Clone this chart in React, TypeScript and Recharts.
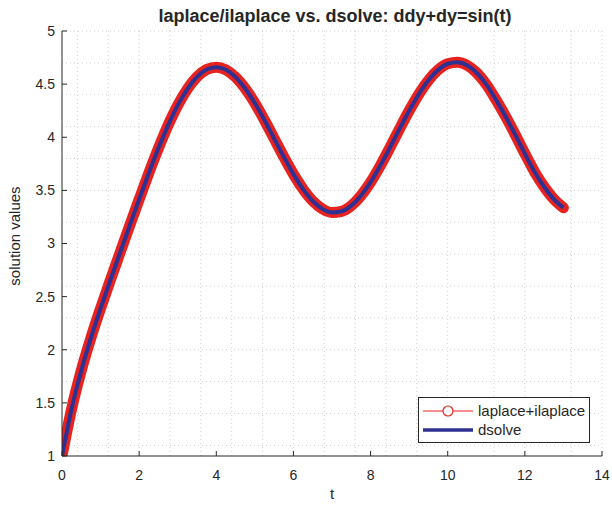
import { CartesianGrid, Legend, Line, LineChart, XAxis, YAxis } from 'recharts';

// t samples and the two solutions
const tValues = [
  0, 0.25, 0.5, 0.75, 1, 1.25, 1.5, 1.75, 2, 2.25, 2.5, 2.75, 3, 3.25, 3.5, 3.75,
  4, 4.25, 4.5, 4.75, 5, 5.25, 5.5, 5.75, 6, 6.25, 6.5, 6.75, 7, 7.25, 7.5, 7.75,
  8, 8.25, 8.5, 8.75, 9, 9.25, 9.5, 9.75, 10, 10.25, 10.5, 10.75, 11, 11.25, 11.5, 11.75,
  12, 12.25, 12.5, 12.75, 13,
];
const laplaceValues = [
  1.0, 1.445, 1.805, 2.112, 2.389, 2.652, 2.908, 3.163, 3.415, 3.662, 3.896, 4.112, 4.3, 4.454, 4.568, 4.637,
  4.659, 4.635, 4.566, 4.459, 4.321, 4.16, 3.988, 3.816, 3.653, 3.512, 3.4, 3.326, 3.292, 3.303, 3.356, 3.45,
  3.577, 3.731, 3.901, 4.078, 4.249, 4.405, 4.536, 4.634, 4.692, 4.706, 4.678, 4.607, 4.498, 4.354, 4.196, 4.025,
  3.846, 3.676, 3.534, 3.418, 3.336,
];
const dsolveValues = laplaceValues; // the two curves sit on top of each other

const xTicks = [0, 2, 4, 6, 8, 10, 12, 14];
const yTicks = [1, 1.5, 2, 2.5, 3, 3.5, 4, 4.5, 5];
const xGrid = Array.from({ length: 36 }, (_, i) => +(i * 0.4).toFixed(1));
const yGrid = Array.from({ length: 41 }, (_, i) => +(1 + i * 0.1).toFixed(1));
const legendOrder = ['laplace', 'dsolve'];

const data = tValues.map((t, i) => ({ t, laplace: laplaceValues[i], dsolve: dsolveValues[i] }));

const FONT = '"Liberation Sans", Arial, Helvetica, sans-serif';
const AXIS = '#262626';
const RED = '#e8231f';
const BLUE = '#2e3192';

const BottomTick = (props: any) => {
  const { x, y, payload } = props;
  return (
    <g>
      <line x1={x} y1={y} x2={x} y2={y - 5} stroke={AXIS} />
      <text x={x} y={y + 24} textAnchor="middle" fontSize={14} fill={AXIS} fontFamily={FONT}>
        {payload.value}
      </text>
    </g>
  );
};
const LeftTick = (props: any) => {
  const { x, y, payload } = props;
  return (
    <g>
      <line x1={x} y1={y} x2={x + 5} y2={y} stroke={AXIS} />
      <text x={x - 7} y={y} dy="0.35em" textAnchor="end" fontSize={14} fill={AXIS} fontFamily={FONT}>
        {payload.value}
      </text>
    </g>
  );
};
const TopTick = (props: any) => (
  <line x1={props.x} y1={props.y} x2={props.x} y2={props.y + 5} stroke={AXIS} />
);
const RightTick = (props: any) => (
  <line x1={props.x} y1={props.y} x2={props.x - 5} y2={props.y} stroke={AXIS} />
);

const renderLegend = (props: any) => {
  const entries = [...(props.payload ?? [])].sort(
    (a: any, b: any) => legendOrder.indexOf(a.dataKey) - legendOrder.indexOf(b.dataKey),
  );
  return (
    <div
      style={{
        width: 172,
        height: 46,
        border: `1px solid ${AXIS}`,
        background: '#fff',
        fontFamily: FONT,
        fontSize: 15,
        color: AXIS,
        boxSizing: 'border-box',
        paddingTop: 3,
      }}
    >
      {entries.map((entry: any) => (
        <div key={entry.value} style={{ display: 'flex', alignItems: 'center', height: 19 }}>
          <svg width={59} height={14} style={{ flex: 'none' }}>
            {entry.dataKey === 'laplace' ? (
              <g>
                <line x1={4} y1={7} x2={54} y2={7} stroke={RED} strokeWidth={1.2} />
                <circle cx={29} cy={7} r={5} fill="#fff" stroke={RED} strokeWidth={1.2} />
              </g>
            ) : (
              <line x1={4} y1={7} x2={54} y2={7} stroke={BLUE} strokeWidth={3.5} />
            )}
          </svg>
          <span style={{ whiteSpace: 'nowrap' }}>{entry.value}</span>
        </div>
      ))}
    </div>
  );
};

export default function App() {
  return (
    <div style={{ position: 'absolute', left: 0, top: 0, width: 612, height: 505, background: '#fff' }}>
      <div
        style={{
          position: 'absolute', left: 0, top: 6, width: 670, textAlign: 'center',
          fontFamily: FONT, fontWeight: 'bold', fontSize: 18, color: AXIS, zIndex: 2,
        }}
      >
        laplace/ilaplace vs. dsolve: ddy+dy=sin(t)
      </div>
      <div
        style={{
          position: 'absolute', left: 0, top: 485, width: 664, textAlign: 'center',
          fontFamily: FONT, fontSize: 15, color: AXIS, zIndex: 2,
        }}
      >
        t
      </div>
      <div
        style={{
          position: 'absolute', left: 15, top: 236, width: 0, height: 0, zIndex: 2,
        }}
      >
        <div
          style={{
            position: 'absolute', left: -80, top: -9, width: 160, textAlign: 'center',
            transform: 'rotate(-90deg)', fontFamily: FONT, fontSize: 15, color: AXIS,
            whiteSpace: 'nowrap', lineHeight: '18px',
          }}
        >
          solution values
        </div>
      </div>
      <LineChart
        width={612}
        height={505}
        data={data}
        margin={{ top: 31, right: 10, bottom: 19, left: 2 }}
      >
        <CartesianGrid
          stroke="#cfcfcf"
          strokeDasharray="1 3"
          verticalValues={xGrid}
          horizontalValues={yGrid}
        />
        <XAxis
          dataKey="t"
          type="number"
          domain={[0, 14]}
          ticks={xTicks}
          height={30}
          tickSize={0}
          tickMargin={0}
          tick={BottomTick}
          tickLine={false}
          axisLine={{ stroke: AXIS }}
          allowDataOverflow
        />
        <XAxis
          xAxisId="top"
          orientation="top"
          type="number"
          domain={[0, 14]}
          ticks={xTicks}
          height={0}
          tickSize={0}
          tickMargin={0}
          tick={TopTick}
          tickLine={false}
          axisLine={{ stroke: AXIS }}
          allowDataOverflow
        />
        <YAxis
          type="number"
          domain={[1, 5]}
          ticks={yTicks}
          width={60}
          tickSize={0}
          tickMargin={0}
          tick={LeftTick}
          tickLine={false}
          axisLine={{ stroke: AXIS }}
          allowDataOverflow
        />
        <YAxis
          yAxisId="right"
          orientation="right"
          type="number"
          domain={[1, 5]}
          ticks={yTicks}
          width={0}
          tickSize={0}
          tickMargin={0}
          tick={RightTick}
          tickLine={false}
          axisLine={{ stroke: AXIS }}
          allowDataOverflow
        />
        <Legend
          layout="horizontal"
          verticalAlign="middle"
          align="center"
          content={renderLegend}
          wrapperStyle={{ position: 'absolute', left: 418, top: 397, width: 172, height: 46 }}
        />
        <Line
          name="laplace+ilaplace"
          dataKey="laplace"
          type="monotone"
          stroke={RED}
          strokeWidth={11}
          strokeLinecap="round"
          strokeLinejoin="round"
          dot={false}
          activeDot={false}
          isAnimationActive={false}
        />
        <Line
          name="dsolve"
          dataKey="dsolve"
          type="monotone"
          stroke={BLUE}
          strokeWidth={4}
          dot={false}
          activeDot={false}
          isAnimationActive={false}
        />
      </LineChart>
    </div>
  );
}
